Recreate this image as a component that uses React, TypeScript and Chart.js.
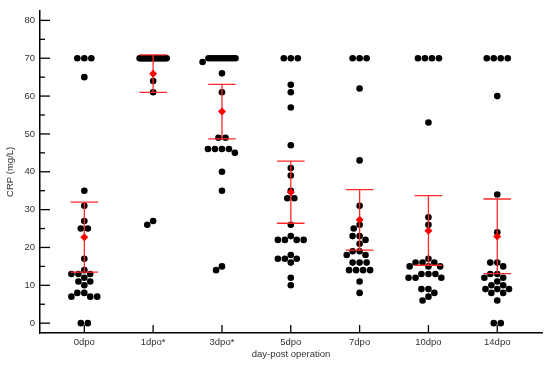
import React, { useEffect, useRef } from 'react';
import { Chart, registerables } from 'chart.js';

Chart.register(...registerables);

// ---------------- data ----------------
const categories = ['0dpo', '1dpo*', '3dpo*', '5dpo', '7dpo', '10dpo', '14dpo'];

const crp0dpo = [70, 70, 70, 65, 35, 31, 27, 25, 25, 17, 14, 13, 13, 13, 12, 11, 11, 10, 8, 8, 7, 7, 7, 0, 0];
const crp1dpo = [70, 70, 70, 70, 70, 70, 70, 70, 70, 70, 70, 70, 70, 70, 70, 70, 70, 70, 70, 70, 70, 64, 61, 27, 26];
const crp3dpo = [70, 70, 70, 70, 70, 70, 70, 70, 70, 70, 70, 69, 66, 61, 49, 49, 46, 46, 46, 46, 45, 40, 35, 15, 14];
const crp5dpo = [70, 70, 70, 63, 61, 57, 47, 41, 39, 35, 33, 33, 26, 23, 22, 22, 22, 22, 18, 17, 17, 17, 16, 12, 10];
const crp7dpo = [70, 70, 70, 62, 43, 31, 26, 25, 23, 23, 22, 21, 19, 19, 18, 18, 16, 16, 16, 14, 14, 14, 14, 11, 8];
const crp10dpo = [70, 70, 70, 70, 53, 28, 26, 17, 16, 16, 16, 15, 15, 15, 13, 13, 13, 12, 12, 12, 9, 9, 8, 7, 6];
const crp14dpo = [70, 70, 70, 70, 60, 34, 24, 16, 16, 15, 13, 13, 12, 12, 11, 10, 10, 9, 9, 9, 8, 8, 6, 0, 0];

const groups = [crp0dpo, crp1dpo, crp3dpo, crp5dpo, crp7dpo, crp10dpo, crp14dpo];

const means = [22.7, 65.9, 55.9, 34.6, 27.3, 24.4, 22.9];
const ciUpper = [32.0, 70.9, 63.1, 42.8, 35.3, 33.7, 32.8];
const ciLower = [13.5, 61.0, 48.7, 26.4, 19.3, 15.3, 13.1];

const yMajorTicks = [0, 10, 20, 30, 40, 50, 60, 70, 80];
const yMinorTicks = [5, 15, 25, 35, 45, 55, 65, 75];

// ---------------- style ----------------
const FONT = "'Liberation Sans', Arial, sans-serif";
const TEXT = '#333';
const RED = '#ff2a2a';
const CAP_HALF = 0.2; // in category units
const DOT_D = 7;
const MAX_SPAN = 27;

function swarmOffsets(values: number[], yPx: (v: number) => number): number[] {
  const n = values.length;
  const off: number[] = new Array(n).fill(NaN);
  const placed: { x: number; y: number }[] = [];
  const byVal = new Map<number, number[]>();
  values.forEach((v, i) => {
    if (!byVal.has(v)) byVal.set(v, []);
    byVal.get(v)!.push(i);
  });
  const distinct = Array.from(byVal.keys());
  byVal.forEach((idx, v) => {
    const isolated = distinct.every((u) => u === v || Math.abs(yPx(u) - yPx(v)) >= DOT_D);
    if (idx.length >= 6 || (idx.length >= 2 && isolated)) {
      const step = Math.min(DOT_D, MAX_SPAN / (idx.length - 1));
      idx.forEach((i, k) => {
        off[i] = (k - (idx.length - 1) / 2) * step;
        placed.push({ x: off[i], y: yPx(v) });
      });
    }
  });
  const rest = values
    .map((_, i) => i)
    .filter((i) => isNaN(off[i]))
    .sort((a, b) => values[b] - values[a]);
  for (const i of rest) {
    const py = yPx(values[i]);
    const iv: [number, number][] = [];
    for (const q of placed) {
      const dy = Math.abs(q.y - py);
      if (dy < DOT_D) {
        const w = Math.sqrt(DOT_D * DOT_D - dy * dy);
        iv.push([q.x - w, q.x + w]);
      }
    }
    const cands = [0];
    iv.forEach(([a, b]) => cands.push(a, b));
    let best = Infinity;
    for (const c of cands) {
      if (iv.some(([a, b]) => c > a + 1e-6 && c < b - 1e-6)) continue;
      const ac = Math.abs(c);
      const ab = Math.abs(best);
      if (ac < ab - 1e-6 || (Math.abs(ac - ab) < 1e-6 && c < best)) best = c;
    }
    off[i] = best;
    placed.push({ x: best, y: py });
  }
  return off;
}

const axisTicksPlugin = {
  id: 'axisTicks',
  beforeDatasetsDraw(chart: any) {
    const { ctx, chartArea, scales } = chart;
    const x = scales.x;
    const y = scales.y;
    ctx.save();
    ctx.strokeStyle = '#000';
    ctx.lineWidth = 1.3;
    yMajorTicks.forEach((v) => {
      const py = y.getPixelForValue(v);
      ctx.beginPath();
      ctx.moveTo(chartArea.left, py);
      ctx.lineTo(chartArea.left + 10, py);
      ctx.stroke();
    });
    yMinorTicks.forEach((v) => {
      const py = y.getPixelForValue(v);
      ctx.beginPath();
      ctx.moveTo(chartArea.left, py);
      ctx.lineTo(chartArea.left + 5, py);
      ctx.stroke();
    });
    categories.forEach((_, i) => {
      const px = x.getPixelForValue(i);
      ctx.beginPath();
      ctx.moveTo(px, chartArea.bottom);
      ctx.lineTo(px, chartArea.bottom - 8);
      ctx.stroke();
    });
    ctx.restore();
  },
};

export default function App() {
  const ref = useRef<HTMLCanvasElement | null>(null);

  useEffect(() => {
    if (!ref.current) return;

    const barData: any[] = [];
    categories.forEach((_, i) => {
      barData.push({ x: i - CAP_HALF, y: ciUpper[i] }, { x: i + CAP_HALF, y: ciUpper[i] }, { x: i, y: null });
      barData.push({ x: i, y: ciUpper[i] }, { x: i, y: ciLower[i] }, { x: i, y: null });
      barData.push({ x: i - CAP_HALF, y: ciLower[i] }, { x: i + CAP_HALF, y: ciLower[i] }, { x: i, y: null });
    });

    const chart = new Chart(ref.current, {
      type: 'scatter',
      data: {
        datasets: [
          {
            type: 'scatter',
            data: [] as any[],
            pointRadius: 3.3,
            pointBackgroundColor: '#000',
            pointBorderWidth: 0,
            order: 3,
          },
          {
            type: 'line',
            data: barData,
            borderColor: RED,
            borderWidth: 1.3,
            pointRadius: 0,
            spanGaps: false,
            fill: false,
            order: 2,
          } as any,
          {
            type: 'scatter',
            data: means.map((m, i) => ({ x: i, y: m })),
            pointStyle: 'rectRot',
            pointRadius: 4,
            pointBackgroundColor: '#ff0000',
            pointBorderWidth: 0,
            order: 1,
          },
        ],
      },
      options: {
        responsive: false,
        animation: false,
        devicePixelRatio: 1,
        layout: { padding: { top: 6, right: 8, left: 0, bottom: 0 } },
        plugins: { legend: { display: false }, tooltip: { enabled: false } },
        scales: {
          x: {
            type: 'linear',
            min: -0.644,
            max: 6.65,
            afterBuildTicks: (scale: any) => {
              scale.ticks = categories.map((_, i) => ({ value: i }));
            },
            afterFit: (scale: any) => {
              scale.height = 34;
            },
            ticks: {
              callback: (v: any) => categories[v as number] ?? '',
              font: { family: FONT, size: 9.5 },
              color: TEXT,
              padding: 4,
              maxRotation: 0,
              autoSkip: false,
            },
            grid: { display: false, drawTicks: false },
            border: { display: true, color: '#000', width: 1.5 },
            title: {
              display: true,
              text: 'day-post operation',
              font: { family: FONT, size: 9.5 },
              color: TEXT,
              padding: { top: 0, bottom: 7 },
            },
          },
          y: {
            type: 'linear',
            min: -2.6,
            max: 82.56,
            afterBuildTicks: (scale: any) => {
              scale.ticks = yMajorTicks.map((v) => ({ value: v }));
            },
            afterFit: (scale: any) => {
              scale.width = 40;
            },
            ticks: {
              font: { family: FONT, size: 9.5 },
              color: TEXT,
              padding: 5,
            },
            grid: { display: false, drawTicks: false },
            border: { display: true, color: '#000', width: 1.5 },
            title: {
              display: true,
              text: 'CRP (mg/L)',
              font: { family: FONT, size: 9.5 },
              color: TEXT,
              padding: { top: 5, bottom: 0 },
            },
          },
        },
      },
      plugins: [axisTicksPlugin],
    } as any);

    const xs = chart.scales.x;
    const ys = chart.scales.y;
    const xUnit = xs.getPixelForValue(1) - xs.getPixelForValue(0);
    const dots: { x: number; y: number }[] = [];
    groups.forEach((vals, g) => {
      const off = swarmOffsets(vals, (v) => ys.getPixelForValue(v));
      vals.forEach((v, k) => dots.push({ x: g + off[k] / xUnit, y: v }));
    });
    chart.data.datasets[0].data = dots as any;
    chart.update('none');

    return () => chart.destroy();
  }, []);

  return (
    <div style={{ position: 'fixed', left: 0, top: 0, width: 550, height: 367, background: '#fff' }}>
      <canvas ref={ref} width={550} height={367} style={{ display: 'block', width: 550, height: 367 }} />
    </div>
  );
}
